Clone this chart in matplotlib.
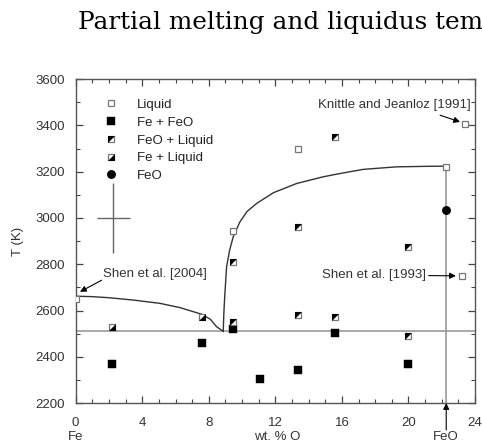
import matplotlib
matplotlib.use("Agg")
import matplotlib.pyplot as plt
from matplotlib.legend_handler import HandlerTuple
from matplotlib.ticker import MultipleLocator
from matplotlib.transforms import blended_transform_factory

plt.rcParams['font.family'] = ['Liberation Sans', 'DejaVu Sans']

# data (wt. % O, T in K)
liquid_x = [0.0, 9.43, 13.38, 22.25, 23.4, 23.2]
liquid_t = [2650, 2945, 3300, 3222, 3406, 2750]

fe_feo_x = [2.16, 7.57, 9.43, 11.08, 13.38, 15.58, 19.99]
fe_feo_t = [2370, 2460, 2521, 2302, 2341, 2501, 2371]

feo_liq_x = [9.43, 9.43, 13.38, 13.38, 15.58, 15.58, 19.99, 19.99]
feo_liq_t = [2810, 2550, 2962, 2580, 3351, 2570, 2875, 2490]

fe_liq_x = [2.16, 7.57]
fe_liq_t = [2530, 2573]

feo_x = [22.25]
feo_t = [3034]

# liquidus
liq_left_x = [0.0, 1.0, 2.07, 3.5, 5.07, 6.3, 7.57, 8.1, 8.47, 8.87]
liq_left_t = [2662, 2660, 2655, 2645, 2631, 2612, 2584, 2562, 2530, 2510]
liq_right_x = [8.87, 8.9, 8.95, 9.07, 9.25, 9.47, 9.87, 10.3, 10.88, 11.88,
               13.28, 14.88, 15.88, 17.28, 19.29, 21.0, 22.25]
liq_right_t = [2510, 2580, 2652, 2789, 2860, 2919, 2983, 3028, 3063, 3109,
               3149, 3178, 3192, 3210, 3221, 3223, 3224]

eutectic_t = 2510
feo_comp = 22.27
err_x, err_t, err_dx, err_dt = 2.26, 3000, 1.0, 150

fig = plt.figure(figsize=(4.82, 4.42), dpi=100)
ax = fig.add_axes([0.157, 0.088, 0.8285, 0.733])

fig.text(0.162, 0.948, "Partial melting and liquidus tem", family='DejaVu Serif',
         fontsize=17.8, color='black', va='center', ha='left')

gray = '#999999'
ax.axhline(eutectic_t, color=gray, lw=1.2, zorder=1)
ax.plot([feo_comp, feo_comp], [2200, liquid_t[3]], color=gray, lw=1.2, zorder=1)
ax.plot(liq_left_x, liq_left_t, color='#333333', lw=1.0, zorder=2)
ax.plot(liq_right_x, liq_right_t, color='#333333', lw=1.0, zorder=2)

ax.errorbar([err_x], [err_t], xerr=[err_dx], yerr=[err_dt], fmt='none',
            ecolor='#666666', elinewidth=1.0, capsize=0)

ms = 5.0
tri_ul = [(-1, 1), (1, 1), (-1, -1), (-1, 1)]
tri_lr = [(1, -1), (1, 1), (-1, -1), (1, -1)]

h_liq, = ax.plot(liquid_x, liquid_t, 's', ms=ms, mfc='white', mec='#777777',
                 mew=0.9, ls='none', zorder=4)
h_fefeo, = ax.plot(fe_feo_x, fe_feo_t, 's', ms=ms + 0.2, mfc='black', mec='black',
                   mew=0.3, ls='none', zorder=4)
h_fl_sq, = ax.plot(feo_liq_x, feo_liq_t, 's', ms=ms, mfc='white', mec='#777777',
                   mew=0.9, ls='none', zorder=4)
h_fl_tri, = ax.plot(feo_liq_x, feo_liq_t, marker=tri_ul, ms=ms, mfc='black',
                    mec='none', mew=0, ls='none', zorder=5)
h_el_sq, = ax.plot(fe_liq_x, fe_liq_t, 's', ms=ms, mfc='white', mec='#777777',
                   mew=0.9, ls='none', zorder=4)
h_el_tri, = ax.plot(fe_liq_x, fe_liq_t, marker=tri_lr, ms=ms, mfc='black',
                    mec='none', mew=0, ls='none', zorder=5)
h_feo, = ax.plot(feo_x, feo_t, 'o', ms=ms + 0.4, mfc='black', mec='black',
                 ls='none', zorder=5)

ax.legend([h_liq, h_fefeo, (h_fl_sq, h_fl_tri), (h_el_sq, h_el_tri), h_feo],
          ["Liquid", "Fe + FeO", "FeO + Liquid", "Fe + Liquid", "FeO"],
          handler_map={tuple: HandlerTuple(ndivide=1, pad=0)},
          loc='upper left', bbox_to_anchor=(0.05, 0.968), frameon=False,
          fontsize=9.5, handlelength=1.0, handletextpad=1.4, labelspacing=0.42,
          borderpad=0.2, numpoints=1, labelcolor='#222222')

arrow = dict(arrowstyle='-|>', color='black', lw=0.8, mutation_scale=9,
             shrinkA=0, shrinkB=0)
ax.text(23.75, 3488, "Knittle and Jeanloz [1991]", ha='right', va='center',
        fontsize=9.5, color='#333333')
ax.annotate("", xy=(23.1, 3415), xytext=(21.9, 3444), arrowprops=arrow)
ax.text(1.64, 2760, "Shen et al. [2004]", ha='left', va='center',
        fontsize=9.5, color='#333333')
ax.annotate("", xy=(0.26, 2681), xytext=(1.56, 2731), arrowprops=arrow)
ax.annotate("Shen et al. [1993]", xy=(22.85, 2750), xytext=(21.05, 2753),
            ha='right', va='center', fontsize=9.5, color='#333333',
            arrowprops=arrow)

trans = blended_transform_factory(ax.transData, ax.transAxes)
ax.annotate("", xy=(feo_comp, 0.0), xycoords=trans, xytext=(feo_comp, -0.083),
            textcoords=trans, arrowprops=arrow, annotation_clip=False)
ax.text(0, -0.105, "Fe", transform=trans, ha='center', va='center',
        fontsize=9.5, color='#333333')
ax.text(12.1, -0.105, "wt. % O", transform=trans, ha='center', va='center',
        fontsize=9.5, color='#333333')
ax.text(feo_comp, -0.105, "FeO", transform=trans, ha='center', va='center',
        fontsize=9.5, color='#333333')

ax.set_xlim(0, 24)
ax.set_ylim(2200, 3600)
ax.xaxis.set_major_locator(MultipleLocator(4))
ax.xaxis.set_minor_locator(MultipleLocator(1))
ax.yaxis.set_major_locator(MultipleLocator(200))
ax.yaxis.set_minor_locator(MultipleLocator(100))
ax.tick_params(which='both', direction='in', top=True, right=True,
               color='#444444', labelsize=9.5, labelcolor='#333333')
ax.tick_params(which='major', length=5, width=0.9)
ax.tick_params(which='minor', length=3, width=0.8)
ax.tick_params(axis='y', pad=8)
ax.tick_params(axis='x', pad=10)
for s in ax.spines.values():
    s.set_color('#555555')
    s.set_linewidth(1.0)

ax.set_ylabel("T (K)", fontsize=9.5, color='#333333', labelpad=8)

fig.savefig("out.png", dpi=100)
